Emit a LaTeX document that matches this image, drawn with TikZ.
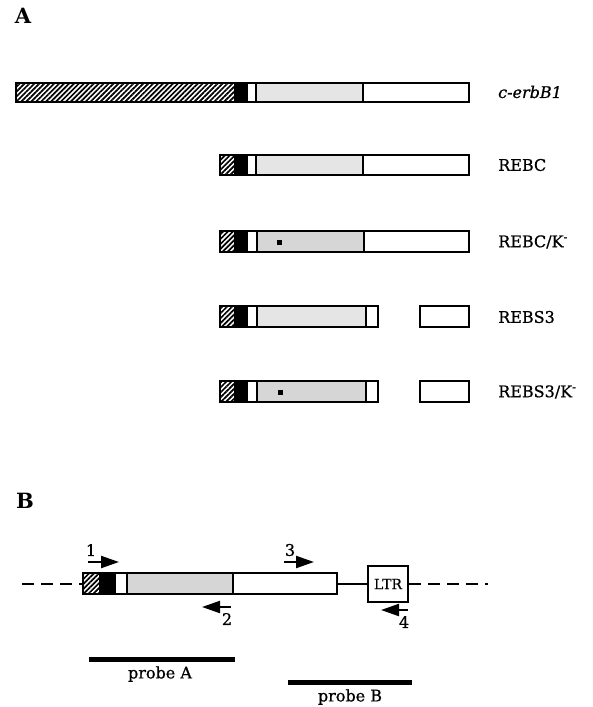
\documentclass[tikz,border=0pt]{standalone}
\usepackage{fontspec}
\setmainfont{DejaVu Serif}
\newfontfamily\heavyserif[FakeBold=0.8]{DejaVu Serif}
\usetikzlibrary{patterns.meta,arrows.meta}
\tikzset{
  seg/.style={draw, line width=2pt},
  hatch/.style={seg, pattern={Lines[angle=45,distance=3.5pt,line width=1.7pt]}},
  kin/.style={seg, fill=gray!20},
  kinm/.style={seg, fill=gray!32},
  blk/.style={seg, fill=black},
  wht/.style={seg, fill=white},
  lbl/.style={anchor=west, inner sep=0pt, font=\heavyserif\fontsize{16}{18}\selectfont},
  panel/.style={inner sep=0pt, font=\fontsize{21}{23}\selectfont\bfseries},
  num/.style={inner sep=0pt, font=\heavyserif\fontsize{16}{18}\selectfont},
  primer/.style={line width=2.2pt, -{Triangle[length=18pt,width=12pt]}},
  probe/.style={line width=5pt},
  mut/.style={fill=black, inner sep=0pt, minimum size=5pt}
}
\begin{document}
\begin{tikzpicture}[x=1pt,y=-1pt]
\useasboundingbox (0,0) rectangle (592,707);
\node[panel] (A) at (23,16) {A};
% row 1 c-erbB1
\draw[hatch] (16,83) rectangle (235,102);
\draw[blk] (235,83) rectangle (247,102);
\draw[wht] (247,83) rectangle (256,102);
\draw[kin] (256,83) rectangle (363,102);
\draw[wht] (363,83) rectangle (469,102);
\node[lbl] (l1) at (498,92) {\itshape c-erbB1};
% row 2 REBC
\draw[hatch] (220,155) rectangle (235,175);
\draw[blk] (235,155) rectangle (247,175);
\draw[wht] (247,155) rectangle (256,175);
\draw[kin] (256,155) rectangle (363,175);
\draw[wht] (363,155) rectangle (469,175);
\node[lbl] (l2) at (498,165) {REBC};
% row 3 REBC/K-
\draw[hatch] (220,231) rectangle (235,252);
\draw[blk] (235,231) rectangle (247,252);
\draw[wht] (247,231) rectangle (257,252);
\draw[kinm] (257,231) rectangle (364,252);
\draw[wht] (364,231) rectangle (469,252);
\node[mut] (m3) at (279,242) {};
\node[lbl] (l3) at (498,242) {REBC/K\textsuperscript{-}};
% row 4 REBS3
\draw[hatch] (220,306) rectangle (235,327);
\draw[blk] (235,306) rectangle (247,327);
\draw[wht] (247,306) rectangle (257,327);
\draw[kin] (257,306) rectangle (366,327);
\draw[wht] (366,306) rectangle (378,327);
\draw[wht] (420,306) rectangle (469,327);
\node[lbl] (l4) at (498,317) {REBS3};
% row 5 REBS3/K-
\draw[hatch] (220,381) rectangle (235,402);
\draw[blk] (235,381) rectangle (247,402);
\draw[wht] (247,381) rectangle (257,402);
\draw[kinm] (257,381) rectangle (366,402);
\draw[wht] (366,381) rectangle (378,402);
\draw[wht] (420,381) rectangle (469,402);
\node[mut] (m5) at (280,392) {};
\node[lbl] (l5) at (498,392) {REBS3/K\textsuperscript{-}};
% panel B
\node[panel] (B) at (25,501) {B};
\coordinate (dl) at (22,584);
\coordinate (dr) at (488,584);
\draw[line width=2pt, dash pattern=on 12pt off 7pt] (dl) -- (83,584);
\draw[hatch] (83,573) rectangle (100,594);
\draw[blk] (100,573) rectangle (115,594);
\draw[wht] (115,573) rectangle (127,594);
\draw[kinm] (127,573) rectangle (233,594);
\draw[wht] (233,573) rectangle (337,594);
\node[seg, minimum width=40pt, minimum height=36pt, inner sep=0pt, font=\heavyserif\fontsize{14}{16}\selectfont] (ltr) at (388,584) {LTR};
\draw[line width=2pt] (337,584) -- (ltr.west);
\draw[line width=2pt, dash pattern=on 12pt off 7pt] (ltr.east) -- (dr);
% primers
\coordinate (p1s) at (88,562); \coordinate (p1e) at (119,562);
\coordinate (p3s) at (284,562); \coordinate (p3e) at (314,562);
\coordinate (p2s) at (231,607); \coordinate (p2e) at (202,607);
\coordinate (p4s) at (408,610); \coordinate (p4e) at (381,610);
\draw[primer] (p1s) -- (p1e);
\draw[primer] (p3s) -- (p3e);
\draw[primer] (p2s) -- (p2e);
\draw[primer] (p4s) -- (p4e);
\node[num] (n1) at (91,550) {1};
\node[num] (n3) at (290,550) {3};
\node[num] (n2) at (227,619) {2};
\node[num] (n4) at (404,622) {4};
% probes
\coordinate (pa1) at (89,659); \coordinate (pa2) at (235,659);
\coordinate (pb1) at (288,682); \coordinate (pb2) at (412,682);
\draw[probe] (pa1) -- (pa2);
\draw[probe] (pb1) -- (pb2);
\node[num] (tA) at (160,674) {probe A};
\node[num] (tB) at (350,697) {probe B};
\end{tikzpicture}
\end{document}
